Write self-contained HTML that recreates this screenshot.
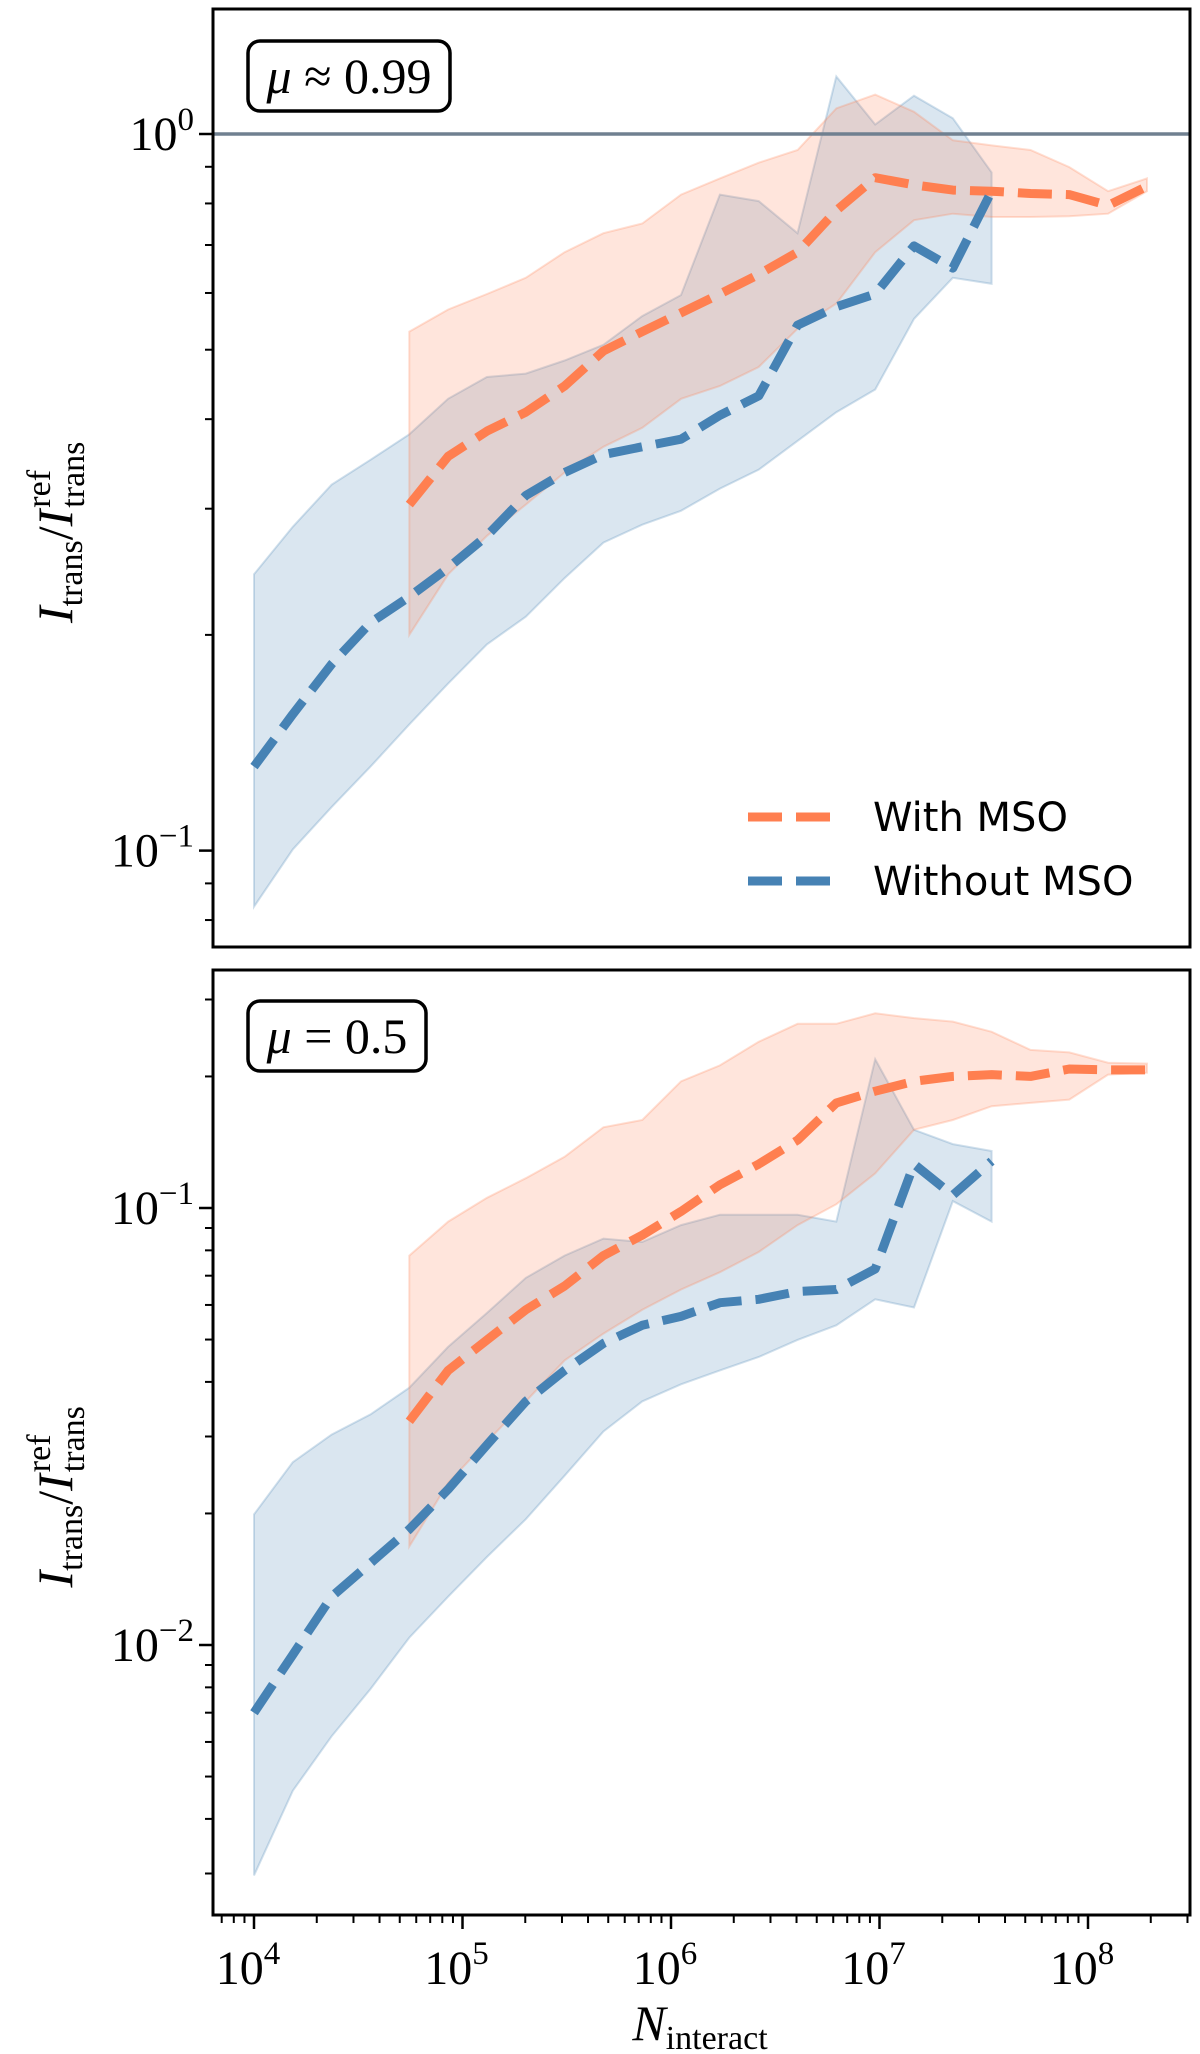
<!DOCTYPE html>
<html><head><meta charset="utf-8"><style>
body{margin:0;background:#fff}
svg{display:block}
.serif{font-family:"Liberation Serif","DejaVu Serif",serif}
</style></head><body>
<svg id="chart" width="1200" height="2054" viewBox="0 0 1200 2054" xmlns="http://www.w3.org/2000/svg"></svg>
<script>
// ---- data ----
const xBlueLog0 = 4.0;
const xOrangeLog0 = 4.745;
const xStepLog = 0.1862;

const topBlueMean = [0.131,0.155,0.182,0.208,0.226,0.248,0.275,0.313,0.337,0.357,0.366,0.375,0.405,0.431,0.541,0.574,0.598,0.698,0.650,0.832];
const topBlueHigh = [0.243,0.283,0.324,0.351,0.381,0.427,0.458,0.463,0.483,0.508,0.557,0.596,0.823,0.806,0.727,1.203,1.031,1.131,1.052,0.884];
const topBlueLow  = [0.0835,0.1004,0.115,0.131,0.150,0.171,0.194,0.212,0.240,0.269,0.285,0.298,0.320,0.340,0.373,0.409,0.440,0.552,0.630,0.618];
const topOrangeMean = [0.304,0.355,0.385,0.409,0.445,0.498,0.530,0.563,0.598,0.637,0.684,0.782,0.869,0.849,0.835,0.832,0.826,0.823,0.795,0.845];
const topOrangeHigh = [0.530,0.569,0.598,0.630,0.684,0.727,0.750,0.823,0.867,0.912,0.950,1.086,1.135,1.074,0.980,0.964,0.950,0.899,0.832,0.867];
const topOrangeLow  = [0.200,0.243,0.275,0.304,0.337,0.366,0.389,0.427,0.445,0.473,0.535,0.580,0.684,0.758,0.774,0.766,0.766,0.768,0.774,0.832];

const botBlueMean = [0.0070,0.0095,0.0129,0.0154,0.0184,0.0227,0.0287,0.0361,0.0425,0.0490,0.0539,0.0565,0.0607,0.0618,0.0644,0.0651,0.0725,0.126,0.107,0.128];
const botBlueHigh = [0.0199,0.0262,0.0303,0.0337,0.0388,0.0481,0.0575,0.0692,0.0778,0.0851,0.0836,0.0914,0.0965,0.0965,0.0965,0.0931,0.219,0.151,0.140,0.135];
const botBlueLow  = [0.00297,0.00464,0.00618,0.00793,0.0104,0.0129,0.0159,0.0194,0.0244,0.0308,0.0361,0.0395,0.0425,0.0456,0.0499,0.0539,0.0618,0.0592,0.1037,0.0931];
const botOrangeMean = [0.0325,0.0425,0.0499,0.0585,0.0663,0.0778,0.0867,0.0982,0.113,0.126,0.143,0.174,0.185,0.195,0.200,0.202,0.200,0.208,0.207,0.207];
const botOrangeHigh = [0.0778,0.0931,0.1055,0.117,0.131,0.153,0.159,0.195,0.212,0.240,0.264,0.264,0.279,0.272,0.267,0.253,0.230,0.227,0.215,0.214];
const botOrangeLow  = [0.0168,0.0235,0.0292,0.0361,0.0448,0.0516,0.0585,0.0651,0.0713,0.0793,0.0914,0.102,0.120,0.151,0.159,0.171,0.174,0.177,0.202,0.204];

const xTickLabels = ["4","5","6","7","8"];
const topYTickExp = ["0","-1"];
const botYTickExp = ["-1","-2"];

// ---- layout ----
const NS = "http://www.w3.org/2000/svg";
const svg = document.getElementById('chart');
const L = 213, R = 1190;
const X0LOG = 4, XPX0 = 254, XDEC = 208.5;
function xs(logv){ return XPX0 + (logv - X0LOG) * XDEC; }
const BLUE = "#4682b4", ORANGE = "#ff7f50";
const DASH = '34,14';

function mk(tag, attrs, parent){
  const e = document.createElementNS(NS, tag);
  for (const k in attrs) e.setAttribute(k, attrs[k]);
  (parent || svg).appendChild(e);
  return e;
}

function panel(cfg){
  const g = mk('g', {});
  
  
  const ys = v => cfg.y1 - (Math.log10(v) - cfg.logRef) * cfg.dec;
  const xBlue = i => xs(xBlueLog0 + i * xStepLog);
  const xOr = i => xs(xOrangeLog0 + i * xStepLog);

  const clipId = 'clip-' + cfg.name;
  const cp = mk('clipPath', {id: clipId}, g);
  mk('rect', {x: L, y: cfg.top, width: R - L, height: cfg.bot - cfg.top}, cp);
  const plot = mk('g', {'clip-path': 'url(#' + clipId + ')'}, g);

  function band(hi, lo, xf, color, name){
    let d = '';
    hi.forEach((v, i) => { d += (i ? 'L' : 'M') + xf(i).toFixed(1) + ',' + ys(v).toFixed(1); });
    for (let i = lo.length - 1; i >= 0; i--) d += 'L' + xf(i).toFixed(1) + ',' + ys(lo[i]).toFixed(1);
    d += 'Z';
    const p = mk('path', {d: d, fill: color, 'fill-opacity': 0.2, stroke: color, 'stroke-opacity': 0.25, 'stroke-width': 2}, plot);
    
    
  }
  function line(vals, xf, color, name){
    const pts = vals.map((v, i) => xf(i).toFixed(1) + ',' + ys(v).toFixed(1)).join(' ');
    const p = mk('polyline', {points: pts, fill: 'none', stroke: color, 'stroke-width': 9, 'stroke-dasharray': DASH, 'stroke-linejoin': 'round'}, plot);
    
    
  }
  band(cfg.bHi, cfg.bLo, xBlue, BLUE, 'blue-band-without-mso');
  band(cfg.oHi, cfg.oLo, xOr, ORANGE, 'orange-band-with-mso');
  if (cfg.refLine){
    const rl = mk('line', {x1: L, x2: R, y1: ys(1), y2: ys(1), stroke: '#708090', 'stroke-width': 3.5}, plot);
    
    
  }
  line(cfg.oMean, xOr, ORANGE, 'line-with-mso');
  line(cfg.bMean, xBlue, BLUE, 'line-without-mso');

  const dLo = Math.floor(cfg.logRef - (cfg.bot - cfg.y1) / cfg.dec) - 1;
  for (let d = dLo; d <= 1; d++){
    for (let m = 1; m <= 9; m++){
      const v = m * Math.pow(10, d);
      const y = ys(v);
      if (y < cfg.top - 0.5 || y > cfg.bot + 0.5) continue;
      const len = m === 1 ? 14 : 8;
      const t = mk('line', {x1: L - len, x2: L, y1: y, y2: y, stroke: '#000', 'stroke-width': m === 1 ? 2.5 : 2}, g);
      
      
    }
  }
  cfg.yLabels.forEach(exp => {
    const y = ys(Math.pow(10, +exp));
    const t = mk('text', {x: 194, y: y + 16, 'text-anchor': 'end', 'font-size': 48, class: 'serif'}, g);
    
    
    t.innerHTML = '10<tspan dy="-20" font-size="33">' + (exp.startsWith('-') ? '\u2212' + exp.slice(1) : exp) + '</tspan>';
  });

  // y axis title (rotated group)
  const cy = (cfg.top + cfg.bot) / 2;
  const tg = mk('g', {transform: 'translate(72,' + cy + ') rotate(-90)'}, g);
  
  
  const main = mk('text', {x: -145, y: 0, 'font-size': 50, class: 'serif'}, tg);
  main.innerHTML = '<tspan font-style="italic">I</tspan><tspan font-size="34" dy="10">trans</tspan><tspan dy="-10">/</tspan><tspan font-style="italic">I</tspan>';
  let w = 165;
  try { w = main.getComputedTextLength(); } catch(e) {}
  const sx = -145 + w + 2;
  const sup = mk('text', {x: sx, y: -22, 'font-size': 34, class: 'serif'}, tg);
  sup.textContent = 'ref';
  const sub = mk('text', {x: sx, y: 12, 'font-size': 34, class: 'serif'}, tg);
  sub.textContent = 'trans';

  const fr = mk('rect', {x: L, y: cfg.top, width: R - L, height: cfg.bot - cfg.top, fill: 'none', stroke: '#000', 'stroke-width': 3}, g);
  
  

  const bx = mk('rect', {x: 248, y: cfg.boxY, width: cfg.boxW, height: 70, rx: 12, fill: '#fff', stroke: '#000', 'stroke-width': 3.5}, g);
  
  
  const bt = mk('text', {x: 248 + cfg.boxW / 2, y: cfg.boxY + 52, 'text-anchor': 'middle', 'font-size': 50, class: 'serif'}, g);
  
  
  bt.innerHTML = '<tspan font-style="italic">μ</tspan> ' + cfg.muText;
  return g;
}

panel({name: 'top-panel', top: 9, bot: 947, y1: 134, logRef: 0, dec: 716.6, refLine: true,
  bMean: topBlueMean, bHi: topBlueHigh, bLo: topBlueLow, oMean: topOrangeMean, oHi: topOrangeHigh, oLo: topOrangeLow,
  yLabels: topYTickExp, boxY: 41, boxW: 202, muText: '≈ 0.99'});
panel({name: 'bottom-panel', top: 970, bot: 1915, y1: 1208, logRef: -1, dec: 437, refLine: false,
  bMean: botBlueMean, bHi: botBlueHigh, bLo: botBlueLow, oMean: botOrangeMean, oHi: botOrangeHigh, oLo: botOrangeLow,
  yLabels: botYTickExp, boxY: 1001, boxW: 178, muText: '= 0.5'});

const xg = mk('g', {});


for (let d = 3; d <= 8; d++){
  for (let m = 1; m <= 9; m++){
    const x = xs(d + Math.log10(m));
    if (x < L - 0.5 || x > R + 0.5) continue;
    const len = m === 1 ? 14 : 8;
    const t = mk('line', {x1: x, x2: x, y1: 1915, y2: 1915 + len, stroke: '#000', 'stroke-width': m === 1 ? 2.5 : 2}, xg);
    
    
  }
}
xTickLabels.forEach(e => {
  const t = mk('text', {x: xs(+e) - 6, y: 1984, 'text-anchor': 'middle', 'font-size': 48, class: 'serif'}, xg);
  
  
  t.innerHTML = '10<tspan dy="-20" font-size="33">' + e + '</tspan>';
});
const xt = mk('text', {x: 700, y: 2040, 'text-anchor': 'middle', 'font-size': 50, class: 'serif'}, xg);


xt.innerHTML = '<tspan font-style="italic">N</tspan><tspan font-size="34" dy="9">interact</tspan>';

const lg = mk('g', {});


[['With MSO', ORANGE, 817], ['Without MSO', BLUE, 881]].forEach(([lab, c, y]) => {
  const e = mk('g', {}, lg);
  
  
  mk('line', {x1: 748, x2: 838, y1: y, y2: y, stroke: c, 'stroke-width': 9, 'stroke-dasharray': DASH}, e);
  const t = mk('text', {x: 873, y: y + 14, 'font-size': 40, 'font-family': '"DejaVu Sans","Liberation Sans",sans-serif'}, e);
  t.textContent = lab;
});
</script>
</body></html>
